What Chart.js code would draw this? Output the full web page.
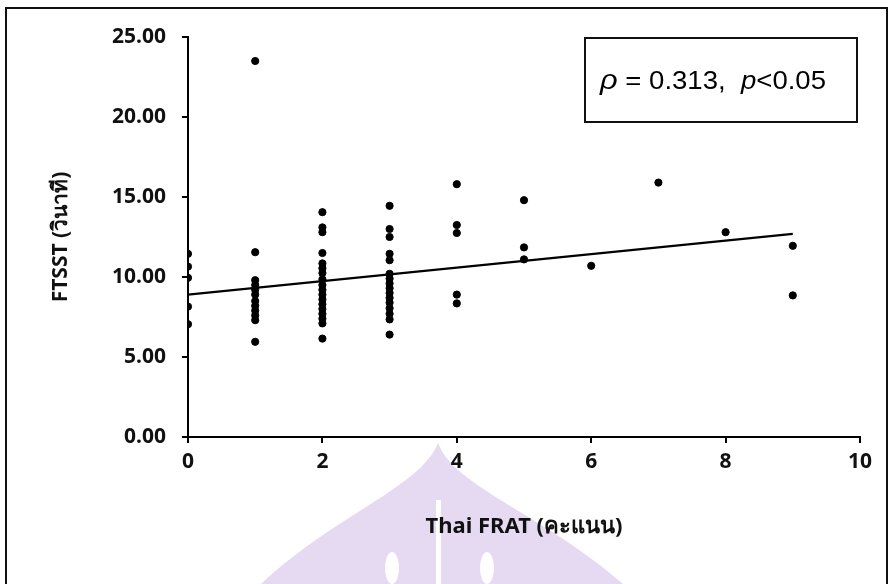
<!DOCTYPE html>
<html>
<head>
<meta charset="utf-8">
<script src="https://cdn.jsdelivr.net/npm/chart.js@4.4.0/dist/chart.umd.min.js"></script>
<style>
  html, body { margin: 0; padding: 0; background: #fff; }
  #wrap { width: 893px; height: 584px; position: relative; }
</style>
</head>
<body>
<div id="wrap"><canvas id="chart1"></canvas></div>
<script>
// Thai FRAT score (x) and FTSST seconds (y)
const fratScores = [
  0, 0, 0, 0, 0,
  1, 1, 1, 1, 1, 1, 1, 1, 1, 1, 1, 1,
  2, 2, 2, 2, 2, 2, 2, 2, 2, 2, 2, 2, 2, 2, 2, 2, 2, 2,
  3, 3, 3, 3, 3, 3, 3, 3, 3, 3, 3, 3, 3, 3, 3, 3,
  4, 4, 4, 4, 4,
  5, 5, 5,
  6, 7, 8, 9, 9
];
const ftsstSeconds = [
  11.45, 10.65, 9.95, 8.15, 7.05,
  23.5, 11.55, 9.8, 9.5, 9.2, 8.9, 8.5, 8.2, 7.9, 7.6, 7.3, 5.95,
  14.05, 13.1, 12.8, 11.5, 10.85, 10.55, 10.25, 9.85, 9.5, 9.2, 8.9, 8.6, 8.3, 8.0, 7.7, 7.4, 7.1, 6.15,
  14.45, 13.0, 12.5, 11.45, 11.05, 10.2, 9.9, 9.6, 9.3, 9.0, 8.7, 8.4, 8.05, 7.7, 7.35, 6.4,
  15.8, 13.25, 12.75, 8.9, 8.35,
  14.8, 11.85, 11.1,
  10.7, 15.9, 12.8, 11.95, 8.85
];
// fitted line end points
const trendX = [0, 9];
const trendY = [8.9, 12.7];

const xTicks = [0, 2, 4, 6, 8, 10];
const yTicks = [0, 5, 10, 15, 20, 25];

const points = fratScores.map((x, i) => ({ x: x, y: ftsstSeconds[i] }));
const trend = trendX.map((x, i) => ({ x: x, y: trendY[i] }));

const tickFont = { family: "'Noto Sans', sans-serif", size: 21, weight: "bold" };

// frame, watermark and the rho box
const decorations = {
  id: "decorations",
  beforeDraw(chart) {
    const c = chart.ctx;
    c.save();
    c.fillStyle = "#fff";
    c.fillRect(0, 0, chart.width, chart.height);
    // faint watermark
    c.fillStyle = "#e6daf2";
    c.beginPath();
    c.moveTo(438, 443);
    c.bezierCurveTo(455, 490, 560, 520, 640, 600);
    c.lineTo(245, 600);
    c.bezierCurveTo(320, 520, 420, 490, 438, 443);
    c.fill();
    c.fillStyle = "#fff";
    c.fillRect(436, 500, 5, 90);
    c.beginPath(); c.ellipse(392, 568, 7, 16, 0, 0, Math.PI * 2); c.fill();
    c.beginPath(); c.ellipse(487, 568, 7, 16, 0, 0, Math.PI * 2); c.fill();
    c.restore();
  },
  afterDraw(chart) {
    const c = chart.ctx;
    c.save();
    c.strokeStyle = "#111";
    c.lineWidth = 2;
    c.strokeRect(6, 8, 881, 600);
    // annotation box
    c.strokeRect(585, 38, 272, 84);
    c.fillStyle = "#000";
    c.textBaseline = "alphabetic";
    const parts = [
      ["italic 28px 'Liberation Sans'", "\u03c1"],
      ["25px 'Liberation Sans'", " = 0.313,  "],
      ["italic 25px 'Liberation Sans'", "p"],
      ["25px 'Liberation Sans'", "<0.05"]
    ];
    let total = 0;
    parts.forEach(p => { c.font = p[0]; total += c.measureText(p[1]).width; });
    const sx = 226 / total;
    c.translate(600, 89);
    c.scale(sx, 1);
    let x = 0;
    parts.forEach(p => {
      c.font = p[0];
      c.fillText(p[1], x, 0);
      x += c.measureText(p[1]).width;
    });
    c.restore();
  }
};

const ctx = document.getElementById("chart1").getContext("2d");
const fratChart = new Chart(ctx, {
  type: "scatter",
  data: {
    datasets: [
      {
        data: points,
        backgroundColor: "#000",
        borderColor: "#000",
        pointRadius: 3.6,
        pointHoverRadius: 3.6,
      },
      {
        type: "line",
        data: trend,
        borderColor: "#000",
        borderWidth: 2.2,
        pointRadius: 0,
        fill: false,
      },
    ],
  },
  plugins: [decorations],
  options: {
    responsive: true,
    maintainAspectRatio: false,
    animation: false,
    layout: { padding: { left: 0, right: 33, top: 37, bottom: 0 } },
    plugins: {
      legend: { display: false },
      tooltip: { enabled: false },
    },
    scales: {
      x: {
        type: "linear",
        min: 0,
        max: 10,
        afterBuildTicks: (s) => { s.ticks = xTicks.map(v => ({ value: v })); },
        afterFit: (s) => { s.height = 147; },
        border: { display: true, color: "#000", width: 2 },
        grid: { drawOnChartArea: false, drawTicks: true, tickLength: 6, color: "#000", lineWidth: 2 },
        ticks: { color: "#111", font: tickFont, padding: 6 },
        title: {
          display: true,
          text: "Thai FRAT (คะแนน)",
          color: "#111",
          font: { family: "'Noto Sans', sans-serif", size: 22, weight: "bold" },
          padding: { top: 44, bottom: 44 },
        },
      },
      y: {
        type: "linear",
        min: 0,
        max: 25,
        afterBuildTicks: (s) => { s.ticks = yTicks.map(v => ({ value: v })); },
        afterFit: (s) => { s.width = 188; },
        border: { display: true, color: "#000", width: 2 },
        grid: { drawOnChartArea: false, drawTicks: true, tickLength: 6, color: "#000", lineWidth: 2 },
        ticks: {
          color: "#111",
          font: tickFont,
          padding: 16,
          callback: (v) => Number(v).toFixed(2),
        },
        title: {
          display: true,
          text: "FTSST (วินาที)",
          color: "#111",
          font: { family: "'Noto Sans', sans-serif", size: 21, weight: "bold" },
          padding: { top: 48, bottom: 48 },
        },
      },
    },
  },
});
</script>
</body>
</html>
